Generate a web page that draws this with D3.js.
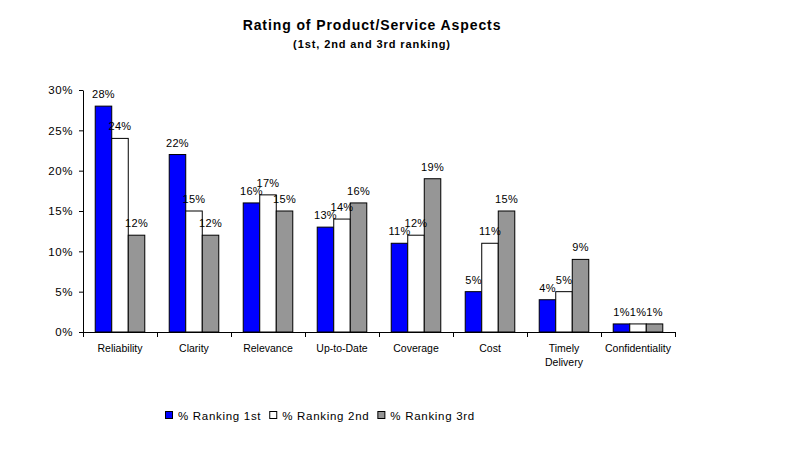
<!DOCTYPE html>
<html lang="en">
<head>
  <meta charset="UTF-8" />
  <title>Rating of Product/Service Aspects</title>
  <script src="https://d3js.org/d3.v7.min.js"></script>
  <style>
    body {
      margin: 0;
      background: #fff;
      font-family: 'Liberation Sans', Arial, sans-serif;
    }
    svg text { fill: #000; }
  </style>
</head>
<body>
  <svg id="chart"></svg>

  <script>
    // data
    const categories = ["Reliability", "Clarity", "Relevance", "Up-to-Date", "Coverage", "Cost", "Timely Delivery", "Confidentiality"];
    const seriesNames = ["% Ranking 1st", "% Ranking 2nd", "% Ranking 3rd"];
    const rank1 = [28, 22, 16, 13, 11, 5, 4, 1];
    const rank2 = [24, 15, 17, 14, 12, 11, 5, 1];
    const rank3 = [12, 12, 15, 16, 19, 15, 9, 1];
    const yTicks = [0, 5, 10, 15, 20, 25, 30];

    const colors = ["#0000ff", "#ffffff", "#969696"];
    const seriesValues = [rank1, rank2, rank3];

    const W = 792, H = 451;
    const svg = d3.select("#chart").attr("width", W).attr("height", H);
    svg.append("rect").attr("width", W).attr("height", H).attr("fill", "#fff");

    const plot = { left: 83, right: 675, top: 90, bottom: 332 };

    // title (letter-spacing to get the wide look of the old Windows fonts)
    svg.append("text")
      .attr("x", 372).attr("y", 30)
      .attr("text-anchor", "middle")
      .attr("font-size", "14px").attr("font-weight", "bold")
      .attr("letter-spacing", "0.9px")
      .text("Rating of Product/Service Aspects");
    svg.append("text")
      .attr("x", 372).attr("y", 48)
      .attr("text-anchor", "middle")
      .attr("font-size", "11px").attr("font-weight", "bold")
      .attr("letter-spacing", "0.9px")
      .text("(1st, 2nd and 3rd ranking)");

    const x = d3.scaleBand().domain(categories).range([plot.left, plot.right]).padding(0);
    const xSub = d3.scaleBand().domain(seriesNames).range([0, x.bandwidth()])
      .paddingInner(0).paddingOuter(0.74);
    const y = d3.scaleLinear().domain([0, 30]).range([plot.bottom, plot.top]);

    // bars
    const rows = [];
    categories.forEach((c, i) => {
      seriesNames.forEach((s, j) => rows.push({ cat: c, series: s, idx: j, value: seriesValues[j][i] }));
    });

    const g = svg.append("g");
    g.selectAll("rect.bar")
      .data(rows)
      .join("rect")
      .attr("class", "bar")
      .attr("x", d => x(d.cat) + xSub(d.series))
      .attr("y", d => y(d.value))
      .attr("width", xSub.bandwidth())
      .attr("height", d => y(0) - y(d.value))
      .attr("fill", d => colors[d.idx])
      .attr("stroke", "#000")
      .attr("stroke-width", 1);

    g.selectAll("text.lbl")
      .data(rows)
      .join("text")
      .attr("class", "lbl")
      .attr("x", d => x(d.cat) + xSub(d.series) + xSub.bandwidth() / 2)
      .attr("y", d => y(d.value) - 8)
      .attr("text-anchor", "middle")
      .attr("font-size", "11px")
      .attr("letter-spacing", "0.3px")
      .text(d => d.value + "%");

    // y axis
    const yAxis = svg.append("g")
      .attr("transform", `translate(${plot.left},0)`)
      .call(d3.axisLeft(y).tickValues(yTicks).tickFormat(d => d + "%").tickSize(4).tickSizeOuter(0));
    yAxis.selectAll("text")
      .attr("font-size", "11.5px")
      .attr("letter-spacing", "0.6px")
      .attr("font-family", "'Liberation Sans', Arial, sans-serif")
      .attr("x", -10);

    // x axis: tick marks sit between the categories
    const xIdx = d3.scaleLinear().domain([0, categories.length]).range([plot.left, plot.right]);
    svg.append("g")
      .attr("transform", `translate(0,${plot.bottom})`)
      .call(d3.axisBottom(xIdx).ticks(categories.length).tickFormat("").tickSize(5).tickSizeOuter(0));

    svg.selectAll(".domain, .tick line").attr("stroke", "#000");

    const catLabels = svg.append("g").selectAll("text")
      .data(categories)
      .join("text")
      .attr("x", d => x(d) + x.bandwidth() / 2)
      .attr("y", plot.bottom + 20)
      .attr("text-anchor", "middle")
      .attr("font-size", "10.5px");
    catLabels.each(function (d) {
      const words = d === "Timely Delivery" ? ["Timely", "Delivery"] : [d];
      const t = d3.select(this);
      words.forEach((w, k) => {
        t.append("tspan").attr("x", x(d) + x.bandwidth() / 2).attr("dy", k === 0 ? 0 : 14).text(w);
      });
    });

    // legend
    const legend = svg.append("g").attr("transform", "translate(165,416)");
    let lx = 0;
    seriesNames.forEach((s, j) => {
      legend.append("rect")
        .attr("x", lx + 0.5).attr("y", -4.5)
        .attr("width", 7).attr("height", 7)
        .attr("fill", colors[j]).attr("stroke", "#000");
      const t = legend.append("text")
        .attr("x", lx + 13).attr("y", 4)
        .attr("font-size", "11.5px")
        .attr("letter-spacing", "0.7px")
        .text(s);
      lx += 13 + t.node().getComputedTextLength() + 8;
    });
  </script>
</body>
</html>
